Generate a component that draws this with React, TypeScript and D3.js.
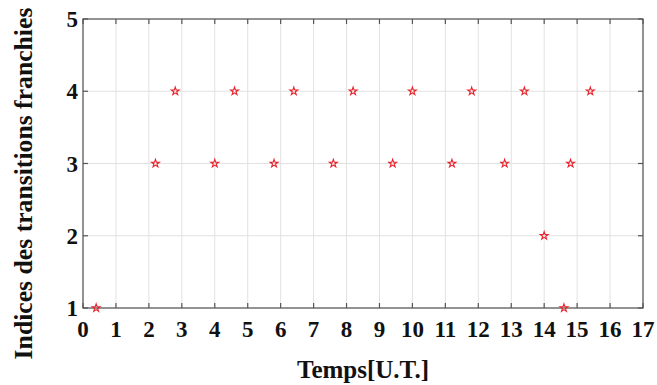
import React from "react";
import * as d3 from "d3";

const times: number[] = [0.4, 2.2, 2.8, 4.0, 4.6, 5.8, 6.4, 7.6, 8.2, 9.4, 10.0, 11.2, 11.8, 12.8, 13.4, 14.0, 14.6, 14.8, 15.4];
const indices: number[] = [1, 3, 4, 3, 4, 3, 4, 3, 4, 3, 4, 3, 4, 3, 4, 2, 1, 3, 4];
const xTicks: number[] = d3.range(0, 18);
const yTicks: number[] = [1, 2, 3, 4, 5];
const xLabel = "Temps[U.T.]";
const yLabel = "Indices des transitions franchies";

const W = 657;
const H = 385;
const m = { left: 83, right: 14, top: 19, bottom: 77 };

export default function App() {
  const x = d3.scaleLinear().domain([0, 17]).range([m.left, W - m.right]);
  const y = d3.scaleLinear().domain([1, 5]).range([H - m.bottom, m.top]);
  const star = d3.symbol().type(d3.symbolStar).size(19)();
  const font = "'Liberation Serif', 'Times New Roman', Times, serif";
  const axisColor = "#555";
  const gridColor = "#e2e2e2";
  const x0 = x(0), x1 = x(17), y0 = y(1), y1 = y(5);
  return (
    <svg width={W} height={H} style={{ position: "absolute", left: 0, top: 0, background: "#fff" }}>
      {xTicks.map((t) => (
        <line key={"gx" + t} x1={x(t)} x2={x(t)} y1={y0} y2={y1} stroke={gridColor} strokeWidth={1} />
      ))}
      {yTicks.map((t) => (
        <line key={"gy" + t} x1={x0} x2={x1} y1={y(t)} y2={y(t)} stroke={gridColor} strokeWidth={1} />
      ))}
      <rect x={x0} y={y1} width={x1 - x0} height={y0 - y1} fill="none" stroke={axisColor} strokeWidth={1.2} />
      {xTicks.map((t) => (
        <g key={"tx" + t}>
          <line x1={x(t)} x2={x(t)} y1={y0} y2={y0 - 5} stroke={axisColor} strokeWidth={1.2} />
          <line x1={x(t)} x2={x(t)} y1={y1} y2={y1 + 5} stroke={axisColor} strokeWidth={1.2} />
          <text x={x(t)} y={y0 + 29} textAnchor="middle" fontFamily={font} fontSize={23} fontWeight="bold" fill="#111">{t}</text>
        </g>
      ))}
      {yTicks.map((t) => (
        <g key={"ty" + t}>
          <line x1={x0} x2={x0 + 5} y1={y(t)} y2={y(t)} stroke={axisColor} strokeWidth={1.2} />
          <line x1={x1} x2={x1 - 5} y1={y(t)} y2={y(t)} stroke={axisColor} strokeWidth={1.2} />
          <text x={x0 - 5} y={y(t) + 8} textAnchor="end" fontFamily={font} fontSize={23} fontWeight="bold" fill="#111">{t}</text>
        </g>
      ))}
      {times.map((t, i) => (
        <path key={"p" + i} d={star || ""} transform={`translate(${x(t)},${y(indices[i])})`} fill="none" stroke="#e8222a" strokeWidth={1.1} />
      ))}
      <text x={(x0 + x1) / 2} y={378} textAnchor="middle" fontFamily={font} fontSize={25} fontWeight="bold" fill="#111">{xLabel}</text>
      <text transform={`translate(32,${(y0 + y1) / 2 + 20}) rotate(-90)`} textAnchor="middle" fontFamily={font} fontSize={25.7} fontWeight="bold" fill="#111">{yLabel}</text>
    </svg>
  );
}
